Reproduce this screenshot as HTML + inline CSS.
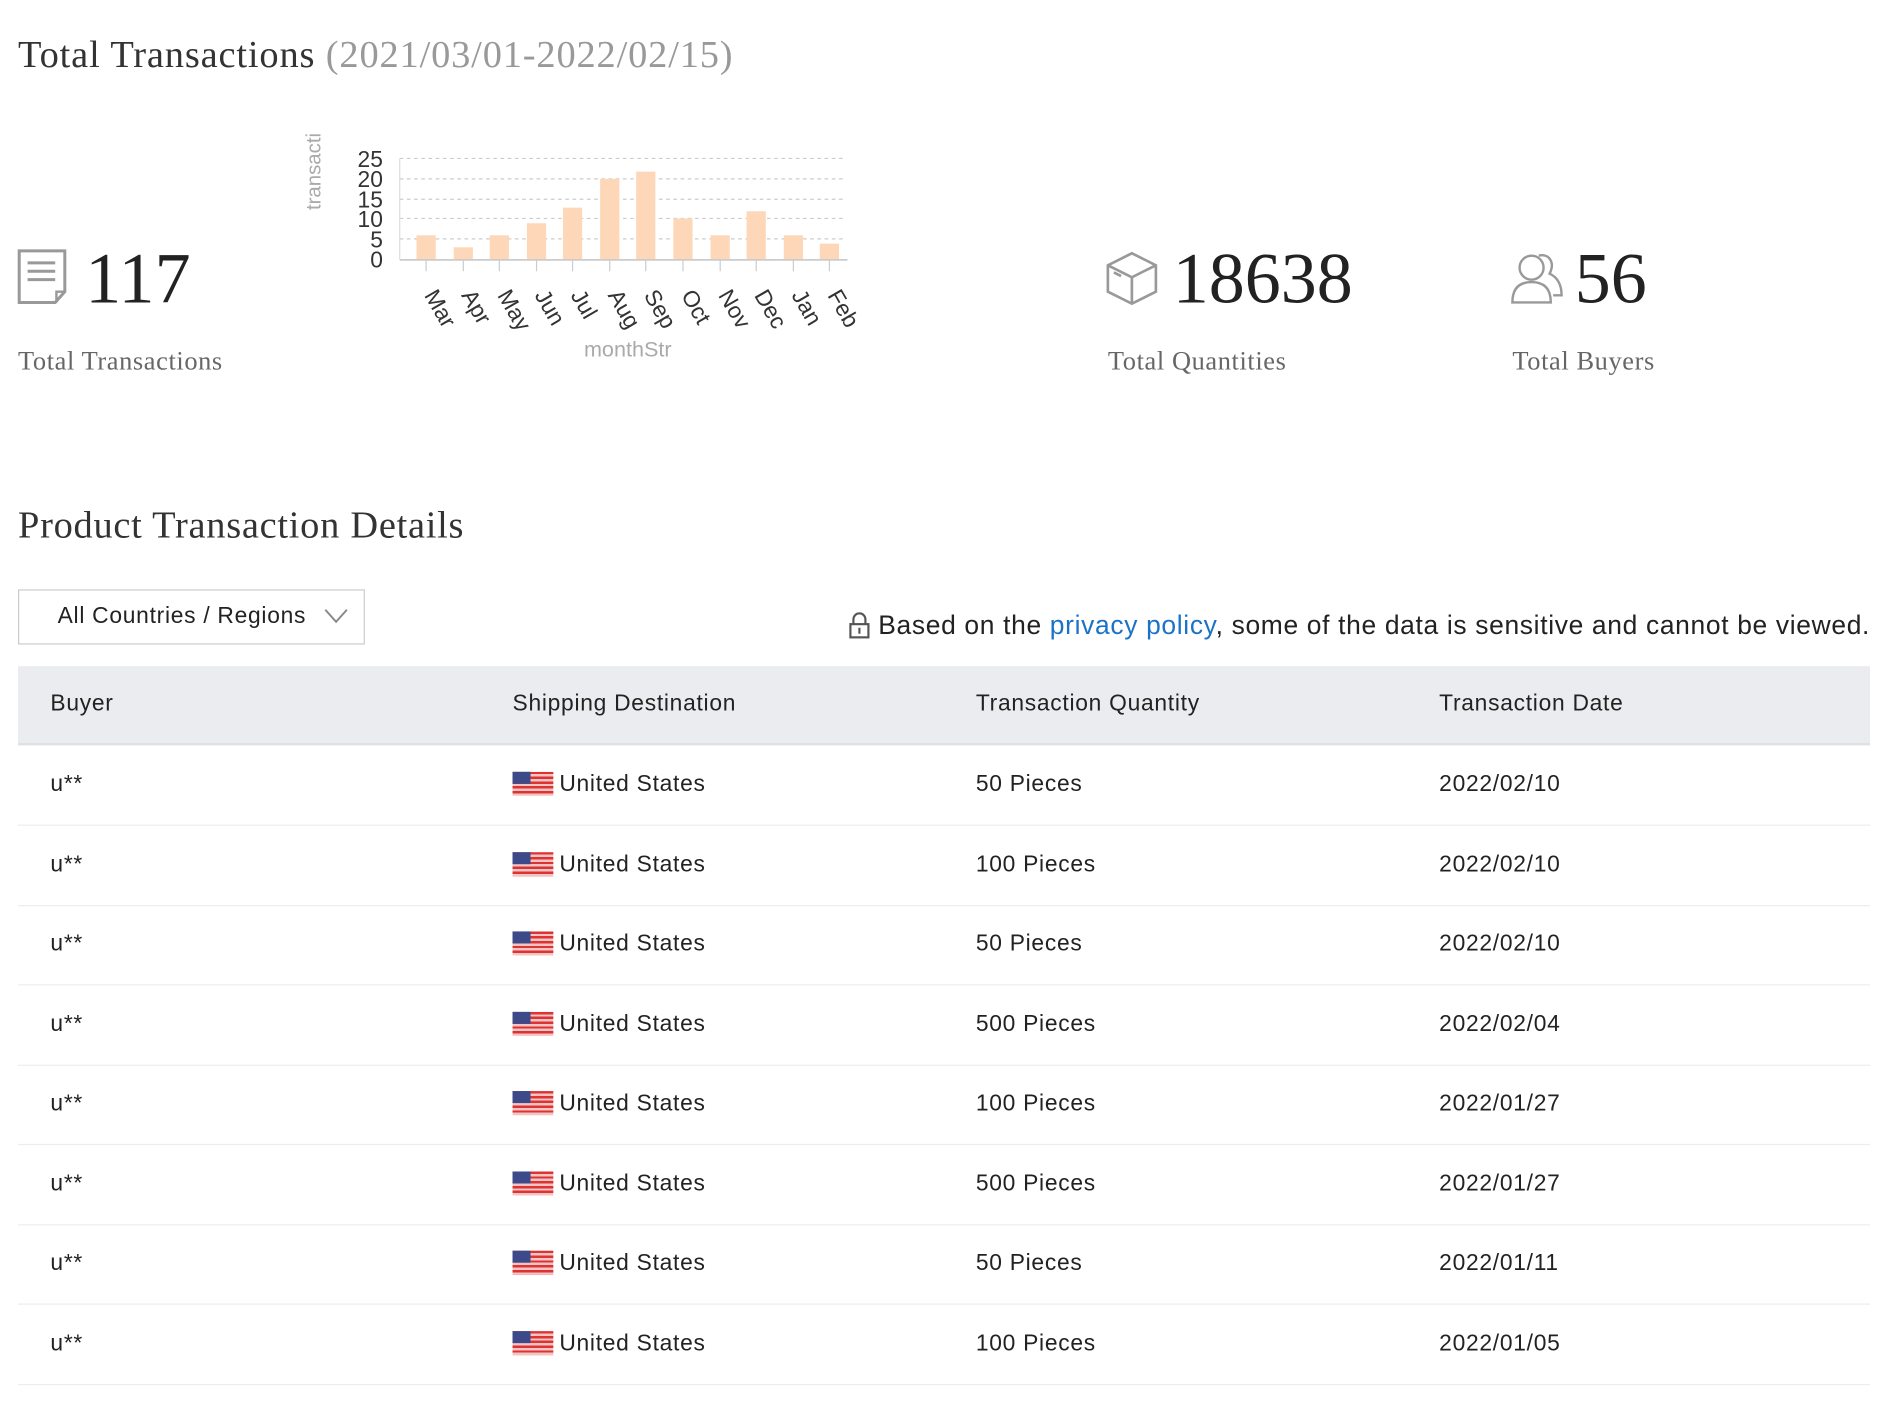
<!DOCTYPE html>
<html><head><meta charset="utf-8"><style>
html,body{margin:0;padding:0;background:#fff;width:1882px;height:1410px;overflow:hidden}
#w{position:absolute;left:0;top:0;width:1568px;height:1175px;transform:scale(1.2003);transform-origin:0 0;font-family:"Liberation Sans",sans-serif;color:#222}
.a{position:absolute;white-space:nowrap}
.serif{font-family:"Liberation Serif",serif}
.big{font-size:60px;color:#222;line-height:60px}
.lab{font-size:22px;color:#666;line-height:24px;letter-spacing:0.5px}
.row{position:absolute;left:15px;width:1543px;height:66px;border-bottom:1px solid #ededed;font-size:19px;color:#222;letter-spacing:0.6px}
.row span{position:absolute;top:22px;line-height:22px}
.flag{position:absolute;left:412px;top:22px;width:34px;height:20px;background:repeating-linear-gradient(#d33 0 2px,#f3c4c4 2px 4px)}
.flag:before{content:"";position:absolute;left:0;top:0;width:15px;height:10px;background:#3d4a8a}
</style></head><body><div id="w">
<div class="a serif" style="left:15px;top:26px;font-size:32px;line-height:38px;color:#333;letter-spacing:0.7px">Total Transactions <span style="color:#999">(2021/03/01-2022/02/15)</span></div>

<svg class="a" style="left:14px;top:207px" width="44" height="48" viewBox="0 0 44 48"><path d="M2 2H40V36L32 45H2Z" fill="none" stroke="#999" stroke-width="2.5"/><path d="M9 12H32M9 19H32M9 26H32" stroke="#999" stroke-width="2.5"/><path d="M40 36H33V45" fill="none" stroke="#999" stroke-width="2"/></svg>
<div class="a serif big" style="left:71px;top:202px">117</div>
<div class="a serif lab" style="left:15px;top:289px">Total Transactions</div>

<svg class="a" style="left:240px;top:90px" width="490" height="220">
<text transform="translate(27,85) rotate(-90)" font-size="17" fill="#aaa" font-family="Liberation Sans">transacti</text>
<g stroke="#ccc" stroke-dasharray="3,3"><line x1="93" x2="465" y1="42" y2="42"/><line x1="93" x2="465" y1="59" y2="59"/><line x1="93" x2="465" y1="76" y2="76"/><line x1="93" x2="465" y1="92" y2="92"/><line x1="93" x2="465" y1="109" y2="109"/></g>
<line x1="93" x2="93" y1="42" y2="126" stroke="#ddd"/>
<g font-size="19" fill="#333" text-anchor="end" font-family="Liberation Sans"><text x="79" y="49">25</text><text x="79" y="66">20</text><text x="79" y="83">15</text><text x="79" y="99">10</text><text x="79" y="116">5</text><text x="79" y="133">0</text></g>
<g fill="#fdd7b8">
<rect x="107" y="106" width="16" height="20"/><rect x="138" y="116" width="16" height="10"/><rect x="168" y="106" width="16" height="20"/><rect x="199" y="96" width="16" height="30"/><rect x="229" y="83" width="16" height="43"/><rect x="260" y="59" width="16" height="67"/><rect x="290" y="53" width="16" height="73"/><rect x="321" y="92" width="16" height="34"/><rect x="352" y="106" width="16" height="20"/><rect x="382" y="86" width="16" height="40"/><rect x="413" y="106" width="16" height="20"/><rect x="443" y="113" width="16" height="13"/></g>
<line x1="93" x2="466" y1="126.5" y2="126.5" stroke="#ccc" stroke-width="1.5"/>
<g stroke="#ccc"><line x1="115" x2="115" y1="126" y2="136"/><line x1="146" x2="146" y1="126" y2="136"/><line x1="176" x2="176" y1="126" y2="136"/><line x1="207" x2="207" y1="126" y2="136"/><line x1="237" x2="237" y1="126" y2="136"/><line x1="268" x2="268" y1="126" y2="136"/><line x1="298" x2="298" y1="126" y2="136"/><line x1="329" x2="329" y1="126" y2="136"/><line x1="360" x2="360" y1="126" y2="136"/><line x1="390" x2="390" y1="126" y2="136"/><line x1="421" x2="421" y1="126" y2="136"/><line x1="451" x2="451" y1="126" y2="136"/></g>
<g font-size="19" fill="#333" font-family="Liberation Sans">
<text transform="translate(113,156) rotate(60)">Mar</text><text transform="translate(144,156) rotate(60)">Apr</text><text transform="translate(174,156) rotate(60)">May</text><text transform="translate(205,156) rotate(60)">Jun</text><text transform="translate(235,156) rotate(60)">Jul</text><text transform="translate(266,156) rotate(60)">Aug</text><text transform="translate(296,156) rotate(60)">Sep</text><text transform="translate(327,156) rotate(60)">Oct</text><text transform="translate(358,156) rotate(60)">Nov</text><text transform="translate(388,156) rotate(60)">Dec</text><text transform="translate(419,156) rotate(60)">Jan</text><text transform="translate(449,156) rotate(60)">Feb</text></g>
<text x="283" y="207" font-size="18" fill="#aaa" text-anchor="middle" font-family="Liberation Sans">monthStr</text>
</svg>

<svg class="a" style="left:921px;top:209px" width="44" height="46" viewBox="0 0 44 46"><path d="M22 2L42 12V34L22 44L2 34V12Z M2 12L22 22L42 12 M22 22V44 M7 18L13 21" fill="none" stroke="#999" stroke-width="2.2"/></svg>
<div class="a serif big" style="left:977px;top:202px">18638</div>
<div class="a serif lab" style="left:923px;top:289px">Total Quantities</div>

<svg class="a" style="left:1258px;top:210px" width="46" height="44" viewBox="0 0 46 44"><circle cx="18" cy="13" r="10" fill="none" stroke="#999" stroke-width="2"/><path d="M2 42C2 30 8 25 18 25C28 25 34 30 34 42Z" fill="none" stroke="#999" stroke-width="2"/><path d="M24 3C32 1 38 8 33 18C40 21 43 28 43 36H36" fill="none" stroke="#999" stroke-width="2"/></svg>
<div class="a serif big" style="left:1312px;top:202px">56</div>
<div class="a serif lab" style="left:1260px;top:289px">Total Buyers</div>

<div class="a serif" style="left:15px;top:418px;font-size:32px;line-height:38px;color:#333;letter-spacing:0.6px">Product Transaction Details</div>

<div class="a" style="left:15px;top:491px;width:287px;height:44px;border:1.5px solid #ccc;font-size:19px;line-height:44px;letter-spacing:0.6px"><span style="position:absolute;left:32px">All Countries / Regions</span><svg style="position:absolute;left:254px;top:14px" width="20" height="14"><path d="M1 2L10 12L19 2" fill="none" stroke="#888" stroke-width="1.6"/></svg></div>

<div class="a" style="right:10px;top:508px;font-size:22px;line-height:26px;color:#222;letter-spacing:0.55px"><svg width="18" height="22" style="vertical-align:-4px" viewBox="0 0 18 22"><path d="M4 10V6A5 5 0 0 1 14 6V10" fill="none" stroke="#555" stroke-width="1.8"/><rect x="1.5" y="10" width="15" height="11" fill="none" stroke="#555" stroke-width="1.8"/><path d="M9 13V18" stroke="#555" stroke-width="1.8"/></svg> Based on the <span style="color:#1a73c8">privacy policy</span>, some of the data is sensitive and cannot be viewed.</div>

<div class="a" style="left:15px;top:555px;width:1543px;height:64px;background:#ebecef;border-bottom:2px solid #e0e1e4;font-size:19px;letter-spacing:0.6px">
<span style="position:absolute;left:27px;top:21px">Buyer</span><span style="position:absolute;left:412px;top:21px">Shipping Destination</span><span style="position:absolute;left:798px;top:21px">Transaction Quantity</span><span style="position:absolute;left:1184px;top:21px">Transaction Date</span></div>

<div class="row" style="top:621px"><span style="left:27px">u**</span><div class="flag"></div><span style="left:451px">United States</span><span style="left:798px">50 Pieces</span><span style="left:1184px">2022/02/10</span></div>
<div class="row" style="top:688px"><span style="left:27px">u**</span><div class="flag"></div><span style="left:451px">United States</span><span style="left:798px">100 Pieces</span><span style="left:1184px">2022/02/10</span></div>
<div class="row" style="top:754px"><span style="left:27px">u**</span><div class="flag"></div><span style="left:451px">United States</span><span style="left:798px">50 Pieces</span><span style="left:1184px">2022/02/10</span></div>
<div class="row" style="top:821px"><span style="left:27px">u**</span><div class="flag"></div><span style="left:451px">United States</span><span style="left:798px">500 Pieces</span><span style="left:1184px">2022/02/04</span></div>
<div class="row" style="top:887px"><span style="left:27px">u**</span><div class="flag"></div><span style="left:451px">United States</span><span style="left:798px">100 Pieces</span><span style="left:1184px">2022/01/27</span></div>
<div class="row" style="top:954px"><span style="left:27px">u**</span><div class="flag"></div><span style="left:451px">United States</span><span style="left:798px">500 Pieces</span><span style="left:1184px">2022/01/27</span></div>
<div class="row" style="top:1020px"><span style="left:27px">u**</span><div class="flag"></div><span style="left:451px">United States</span><span style="left:798px">50 Pieces</span><span style="left:1184px">2022/01/11</span></div>
<div class="row" style="top:1087px"><span style="left:27px">u**</span><div class="flag"></div><span style="left:451px">United States</span><span style="left:798px">100 Pieces</span><span style="left:1184px">2022/01/05</span></div>
</div></body></html>
